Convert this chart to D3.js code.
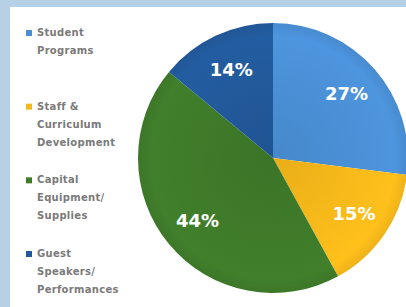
<!DOCTYPE html>
<html>
  <head>
    <meta charset="utf-8">
    <style>
        body { margin: 0; background: #b6d0e6; }
        svg { display: block; }
    </style>
    <script src="https://d3js.org/d3.v7.min.js"></script>
  </head>
  <body>
    <svg></svg>
    <script>
    // chart data
    var categories = ["Student Programs", "Staff & Curriculum Development", "Capital Equipment/ Supplies", "Guest Speakers/ Performances"];
    var legendLines = [["Student", "Programs"], ["Staff &", "Curriculum", "Development"], ["Capital", "Equipment/", "Supplies"], ["Guest", "Speakers/", "Performances"]];
    var shares = [27, 15, 44, 14];
    var sliceColors = ["#4a8fd5", "#f6b81a", "#3e7a29", "#22599a"];

    var width = 406, height = 307;

    var svg = d3.select("svg")
        .attr("width", width)
        .attr("height", height);

    // white panel on the light blue page
    svg.append("rect")
        .attr("x", 10)
        .attr("y", 7)
        .attr("width", width - 10)
        .attr("height", height - 7)
        .attr("fill", "#fff");

    var defs = svg.append("defs");
    sliceColors.forEach(function(c, i) {
        var grad = defs.append("radialGradient")
            .attr("id", "g" + i)
            .attr("gradientUnits", "userSpaceOnUse")
            .attr("cx", 0).attr("cy", 0).attr("r", 136);
        grad.append("stop").attr("offset", "0%").attr("stop-color", d3.color(c).darker(0.15));
        grad.append("stop").attr("offset", "90%").attr("stop-color", d3.color(c).brighter(0.12));
        grad.append("stop").attr("offset", "100%").attr("stop-color", d3.color(c).darker(0.1));
    });

    var radius = 135;
    var pie = d3.pie().sort(null).value(function(d) { return d; });
    var arc = d3.arc().innerRadius(0).outerRadius(radius);
    var labelArc = d3.arc().innerRadius(98).outerRadius(98);

    var g = svg.append("g")
        .attr("transform", "translate(273,158)");

    var arcs = pie(shares);

    g.selectAll("path")
        .data(arcs)
        .enter().append("path")
          .attr("d", arc)
          .attr("fill", function(d, i) { return "url(#g" + i + ")"; });

    g.selectAll("text")
        .data(arcs)
        .enter().append("text")
          .attr("transform", function(d) { return "translate(" + labelArc.centroid(d) + ")"; })
          .attr("text-anchor", "middle")
          .attr("dy", "0.36em")
          .attr("fill", "#fff")
          .attr("font-family", "'DejaVu Sans', sans-serif")
          .attr("font-weight", "bold")
          .attr("font-size", "18px")
          .text(function(d) { return d.data + "%"; });

    // legend
    var ly = d3.scaleLinear().domain([0, 3]).range([36, 257]);

    var legend = svg.append("g").selectAll("g")
        .data(categories)
        .enter().append("g")
          .attr("transform", function(d, i) { return "translate(0," + ly(i) + ")"; });

    legend.append("rect")
        .attr("x", 26)
        .attr("y", -6)
        .attr("width", 6)
        .attr("height", 6)
        .attr("fill", function(d, i) { return sliceColors[i]; });

    legend.append("text")
        .attr("x", 37)
        .attr("fill", "#7a7a7a")
        .attr("font-family", "'DejaVu Sans', sans-serif")
        .attr("font-weight", "bold")
        .attr("font-size", "10px")
        .attr("letter-spacing", "0.3px")
        .selectAll("tspan")
        .data(function(d, i) { return legendLines[i]; })
        .enter().append("tspan")
          .attr("x", 37)
          .attr("dy", function(d, j) { return j ? 18 : 0; })
          .text(function(d) { return d; });
    </script>
  </body>
</html>
